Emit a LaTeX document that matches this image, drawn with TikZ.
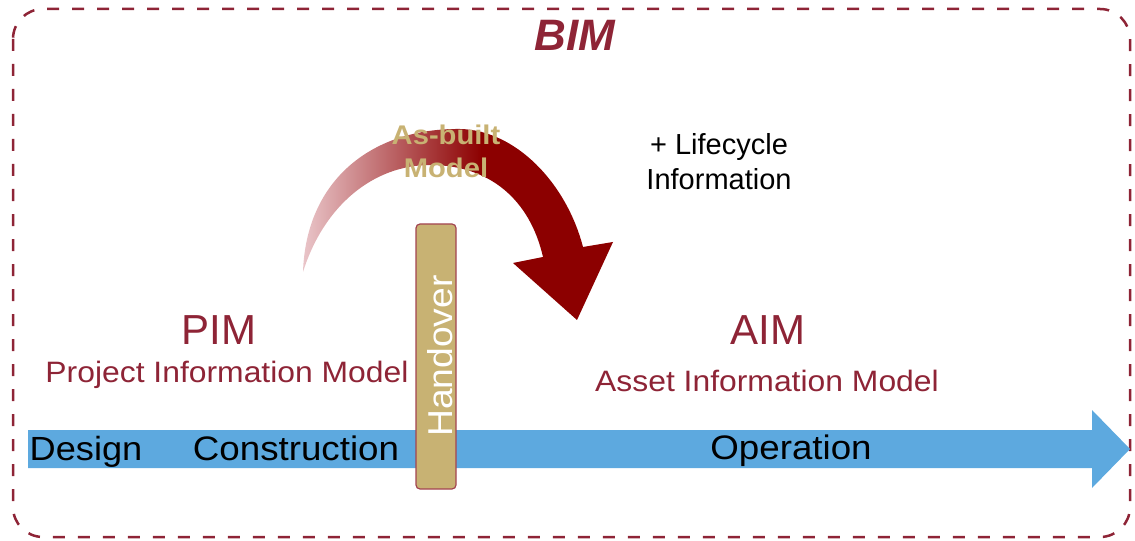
\documentclass[tikz,border=0pt]{standalone}
\usepackage{fontspec}
\setmainfont{Liberation Sans}
\newfontfamily\widefont[FakeStretch=1.08]{Liberation Sans}
\definecolor{bimred}{HTML}{8E2436}
\definecolor{arrowred}{HTML}{8C0000}
\definecolor{tailpink}{HTML}{EBC8CC}
\definecolor{tan}{HTML}{C8B273}
\definecolor{barline}{HTML}{A34450}
\definecolor{flowblue}{HTML}{5DA9DF}
\newcommand{\fs}[1]{\fontsize{#1bp}{1.2\dimexpr#1bp\relax}\selectfont}
\tikzset{
  frame/.style={draw=bimred, line width=2.5bp, dash pattern=on 12bp off 13bp, rounded corners=30bp},
  lbl/.style={inner sep=0pt, anchor=base},
  modeltitle/.style={lbl, text=bimred, font=\fs{42}},
  modelname/.style={lbl, text=bimred, font=\widefont\fs{29.5}},
  phase/.style={lbl, text=black, font=\widefont\fs{34}},
  barbox/.style={draw=barline, line width=1.2bp, fill=tan, rounded corners=4bp},
}
\begin{document}
\begin{tikzpicture}[x=1bp, y=-1bp]
\useasboundingbox (0,0) rectangle (1135,541);

% surrounding BIM frame
\draw[frame] (13,9) rectangle (1130,537);
\node[lbl, text=bimred, font=\fs{44}\bfseries\itshape] (bim) at (575,51) {BIM};

% timeline arrow
\fill[flowblue] (28,430) -- (1092,430) -- (1092,410) -- (1130,449) -- (1092,488) -- (1092,468) -- (28,468) -- cycle;
\node[phase, font=\widefont\fs{33.5}] (design) at (86,460) {Design};
\node[phase] (construction) at (296,460) {Construction};
\node[phase] (operation) at (791,459) {Operation};

% curved handover arrow: pale tail fading into solid dark red
\begin{scope}
  \clip (303,272) .. controls (306,180) and (372,128) .. (460,129)
    .. controls (515,130) and (566,182) .. (583,247)
    -- (613,242) -- (577,320) -- (513,263) -- (543,257)
    .. controls (530,200) and (490,165) .. (430,165)
    .. controls (374,165) and (324,205) .. (303,272) -- cycle;
  \shade[left color=tailpink, right color=arrowred] (300,120) rectangle (482,330);
  \fill[arrowred] (481,120) rectangle (620,330);
\end{scope}
\node[lbl, text=tan, font=\widefont\fs{27}\bfseries] (asbuilt) at (446,145) {As-built};
\node[lbl, text=tan, font=\widefont\fs{27}\bfseries] (asbuilt2) at (446,178) {Model};

\node[lbl, font=\fs{29}] (lifecycle) at (719,155) {+ Lifecycle};
\node[lbl, font=\fs{29}] (lifecycle2) at (719,190) {Information};

% handover bar
\draw[barbox] (416,224) rectangle (456,489);
\node[lbl, text=white, rotate=90, font=\widefont\fs{34.5}] (handover) at (452,356) {Handover};

% information models
\node[modeltitle] (pim) at (219,345) {PIM};
\node[modelname] (pimname) at (227,383) {Project Information Model};
\node[modeltitle] (aim) at (768,345) {AIM};
\node[modelname] (aimname) at (767,391) {Asset Information Model};
\end{tikzpicture}
\end{document}
